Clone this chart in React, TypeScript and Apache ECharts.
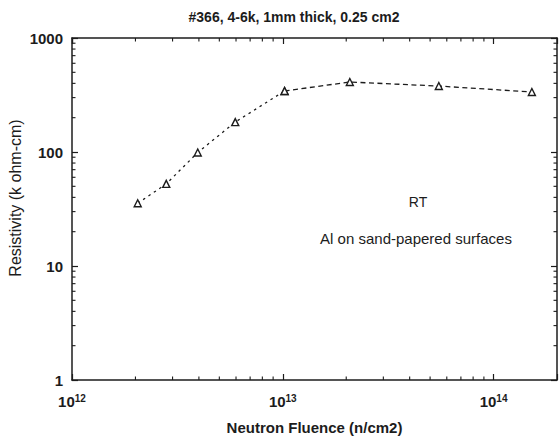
import React, { useEffect, useRef } from "react";
import * as echarts from "echarts";

// Data
const fluence = [2.05e12, 2.8e12, 3.95e12, 5.95e12, 1.02e13, 2.08e13, 5.5e13, 1.52e14];
const resistivity = [35.5, 52.5, 99, 183, 343, 411, 379, 336];

const titleText = "#366, 4-6k, 1mm thick, 0.25 cm2";
const xName = "Neutron Fluence (n/cm2)";
const yName = "Resistivity (k ohm-cm)";
const notes = ["RT", "Al on sand-papered surfaces"];

const xMin = 1e12;
const xMax = 2e14;
const yMin = 1;
const yMax = 1000;

const xMinorTicks = [
  2e12, 3e12, 4e12, 5e12, 6e12, 7e12, 8e12, 9e12,
  2e13, 3e13, 4e13, 5e13, 6e13, 7e13, 8e13, 9e13,
];
const yMinorTicks = [
  2, 3, 4, 5, 6, 7, 8, 9,
  20, 30, 40, 50, 60, 70, 80, 90,
  200, 300, 400, 500, 600, 700, 800, 900,
];

const FONT = "Liberation Sans";
const INK = "#1c1c1c";

export default function App() {
  const ref = useRef<HTMLDivElement>(null);

  useEffect(() => {
    document.body.style.margin = "0";
    if (!ref.current) return;
    const chart = echarts.init(ref.current, null, { renderer: "svg" });

    const pts = fluence.map((f, i) => [f, resistivity[i]]);

    const axisLine = { show: true, lineStyle: { color: INK, width: 1.5 } };
    const majorTick = { show: true, inside: true, length: 6, lineStyle: { color: INK, width: 1.2 } };

    const xLabelFmt = (v: number) => {
      const l = Math.log10(v);
      const e = Math.round(l);
      if (Math.abs(l - e) > 1e-6) return "";
      return `{b|10}{s|${e}}`;
    };
    const yLabelFmt = (v: number) => {
      const l = Math.log10(v);
      const e = Math.round(l);
      if (Math.abs(l - e) > 1e-6) return "";
      return String(Math.round(v));
    };

    chart.setOption({
      animation: false,
      backgroundColor: "#ffffff",
      grid: { left: 72, right: 1, top: 38, bottom: 60, containLabel: false },
      xAxis: [
        {
          type: "log",
          min: xMin,
          max: xMax,
          position: "bottom",
          axisLine,
          axisTick: majorTick,
          splitLine: { show: false },
          axisLabel: {
            margin: 13,
            formatter: xLabelFmt,
            color: INK,
            rich: {
              b: { fontSize: 15, fontFamily: FONT, fontWeight: "bold", color: INK, lineHeight: 17 },
              s: { fontSize: 10, fontFamily: FONT, fontWeight: "bold", color: INK, verticalAlign: "top", lineHeight: 10 },
            },
          },
          name: xName,
          nameLocation: "middle",
          nameGap: 40,
          nameTextStyle: { fontSize: 15, fontFamily: FONT, fontWeight: "bold", color: INK },
        },
        {
          type: "log",
          min: xMin,
          max: xMax,
          position: "top",
          axisLine,
          axisTick: majorTick,
          splitLine: { show: false },
          axisLabel: { show: false },
        },
      ],
      yAxis: [
        {
          type: "log",
          min: yMin,
          max: yMax,
          position: "left",
          axisLine,
          axisTick: majorTick,
          splitLine: { show: false },
          axisLabel: {
            margin: 9,
            formatter: yLabelFmt,
            fontSize: 15,
            fontFamily: FONT,
            fontWeight: "bold",
            color: INK,
          },
        },
        {
          type: "log",
          min: yMin,
          max: yMax,
          position: "right",
          axisLine,
          axisTick: majorTick,
          splitLine: { show: false },
          axisLabel: { show: false },
        },
      ],
      graphic: [
        {
          type: "text",
          x: 294,
          y: 17,
          style: {
            text: titleText,
            fontSize: 14,
            fontFamily: FONT,
            fontWeight: "bold",
            fill: INK,
            textAlign: "center",
            textVerticalAlign: "middle",
          },
        },
        {
          type: "text",
          x: 15,
          y: 198,
          rotation: Math.PI / 2,
          style: {
            text: yName,
            fontSize: 16,
            fontFamily: FONT,
            fill: INK,
            textAlign: "center",
            textVerticalAlign: "middle",
          },
        },
        {
          type: "text",
          x: 418,
          y: 202,
          style: {
            text: notes[0],
            fontSize: 14,
            fontFamily: FONT,
            fill: INK,
            textAlign: "center",
            textVerticalAlign: "middle",
          },
        },
        {
          type: "text",
          x: 416,
          y: 238,
          style: {
            text: notes[1],
            fontSize: 15,
            fontFamily: FONT,
            fill: INK,
            textAlign: "center",
            textVerticalAlign: "middle",
          },
        },
      ],
      series: [
        {
          type: "custom",
          silent: true,
          xAxisIndex: 0,
          yAxisIndex: 0,
          data: xMinorTicks.map((v) => [v, yMin]),
          renderItem: (params: any, api: any) => {
            const v = api.value(0);
            const b = api.coord([v, yMin]);
            const t = api.coord([v, yMax]);
            return {
              type: "group",
              children: [
                { type: "line", shape: { x1: b[0], y1: b[1], x2: b[0], y2: b[1] - 3.5 }, style: { stroke: INK, lineWidth: 1.1 } },
                { type: "line", shape: { x1: t[0], y1: t[1], x2: t[0], y2: t[1] + 3.5 }, style: { stroke: INK, lineWidth: 1.1 } },
              ],
            };
          },
          z: 1,
        },
        {
          type: "custom",
          silent: true,
          xAxisIndex: 0,
          yAxisIndex: 0,
          data: yMinorTicks.map((v) => [xMin, v]),
          renderItem: (params: any, api: any) => {
            const v = api.value(1);
            const l = api.coord([xMin, v]);
            const r = api.coord([xMax, v]);
            return {
              type: "group",
              children: [
                { type: "line", shape: { x1: l[0], y1: l[1], x2: l[0] + 3.5, y2: l[1] }, style: { stroke: INK, lineWidth: 1.1 } },
                { type: "line", shape: { x1: r[0], y1: r[1], x2: r[0] - 3.5, y2: r[1] }, style: { stroke: INK, lineWidth: 1.1 } },
              ],
            };
          },
          z: 1,
        },
        {
          type: "line",
          xAxisIndex: 0,
          yAxisIndex: 0,
          data: pts.slice(0, 5),
          symbol: "triangle",
          symbolSize: 7,
          showSymbol: true,
          lineStyle: { color: INK, width: 1.3, type: [2.5, 4] },
          itemStyle: { color: "#ffffff", borderColor: INK, borderWidth: 1.4 },
          z: 3,
        },
        {
          type: "line",
          xAxisIndex: 0,
          yAxisIndex: 0,
          data: pts.slice(4),
          symbol: "triangle",
          symbolSize: 7,
          showSymbol: true,
          lineStyle: { color: INK, width: 1.3, type: [5, 3.5] },
          itemStyle: { color: "#ffffff", borderColor: INK, borderWidth: 1.4 },
          z: 3,
        },
      ],
    });

    return () => {
      chart.dispose();
    };
  }, []);

  return <div ref={ref} style={{ width: 560, height: 440 }} />;
}
